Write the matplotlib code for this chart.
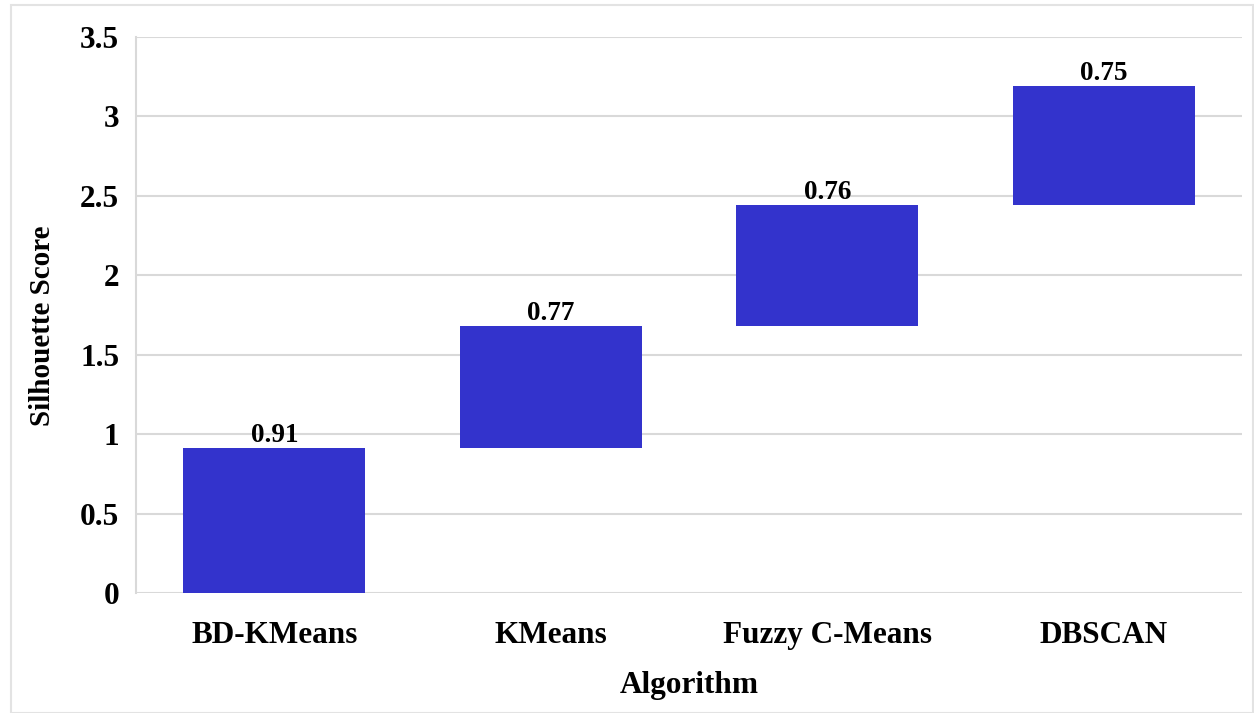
import matplotlib
matplotlib.use("Agg")
import matplotlib.pyplot as plt
from matplotlib.patches import Rectangle
import numpy as np

# Silhouette scores per clustering algorithm (waterfall layout)
algorithms = ["BD-KMeans", "KMeans", "Fuzzy C-Means", "DBSCAN"]
scores = [0.91, 0.77, 0.76, 0.75]
yticks = [0, 0.5, 1, 1.5, 2, 2.5, 3, 3.5]
ytick_labels = ["0", "0.5", "1", "1.5", "2", "2.5", "3", "3.5"]

plt.rcParams["font.family"] = ["Liberation Serif", "DejaVu Serif"]
plt.rcParams["font.weight"] = "bold"

W, H = 1254, 713
fig = plt.figure(figsize=(W / 100, H / 100), dpi=100)
ax = fig.add_axes([136 / W, 1 - 593 / H, (1242 - 136) / W, (593 - 37) / H])

bar_color = "#3333cc"
grid_color = "#d9d9d9"

x = np.arange(len(algorithms))
bottoms = np.concatenate([[0], np.cumsum(scores)[:-1]])
bars = ax.bar(x, scores, bottom=bottoms, width=0.66, color=bar_color, zorder=3)

for b, s, bot in zip(bars, scores, bottoms):
    ax.annotate(f"{s:.2f}", (b.get_x() + b.get_width() / 2, bot + s),
                xytext=(0, 0), textcoords="offset points",
                ha="center", va="bottom", fontsize=19.5, fontweight="bold",
                zorder=4)

ax.set_xlim(-0.5, len(algorithms) - 0.5)
ax.set_ylim(0, 3.5)
ax.set_yticks(yticks)
ax.set_yticklabels(ytick_labels, fontsize=22.5, fontweight="bold")
ax.set_xticks(x)
ax.set_xticklabels(algorithms, fontsize=22.5, fontweight="bold")
ax.tick_params(axis="both", length=0)
ax.tick_params(axis="y", pad=12)
ax.tick_params(axis="x", pad=20)

ax.grid(axis="y", color=grid_color, linewidth=1.5, zorder=0)
for side in ["top", "right", "bottom"]:
    ax.spines[side].set_visible(False)
ax.spines["left"].set_color(grid_color)
ax.spines["left"].set_linewidth(1.5)

ax.set_xlabel("Algorithm", fontsize=22.5, fontweight="bold")
ax.set_ylabel("Silhouette Score", fontsize=21, fontweight="bold")
ax.xaxis.set_label_coords(0.5, -(686 - 593) / (593 - 37), transform=ax.transAxes)
ax.yaxis.set_label_coords(-(136 - 43) / (1242 - 136), (593 - 326) / (593 - 37),
                          transform=ax.transAxes)
ax.xaxis.label.set_va("center")
ax.yaxis.label.set_va("center")

# Light frame around the whole chart
fig.patches.append(Rectangle((11 / W, 0), (W - 12) / W, 1 - 5 / H,
                             transform=fig.transFigure, fill=False,
                             edgecolor="#e3e3e3", linewidth=1.5))

fig.savefig("out.png", dpi=100)
